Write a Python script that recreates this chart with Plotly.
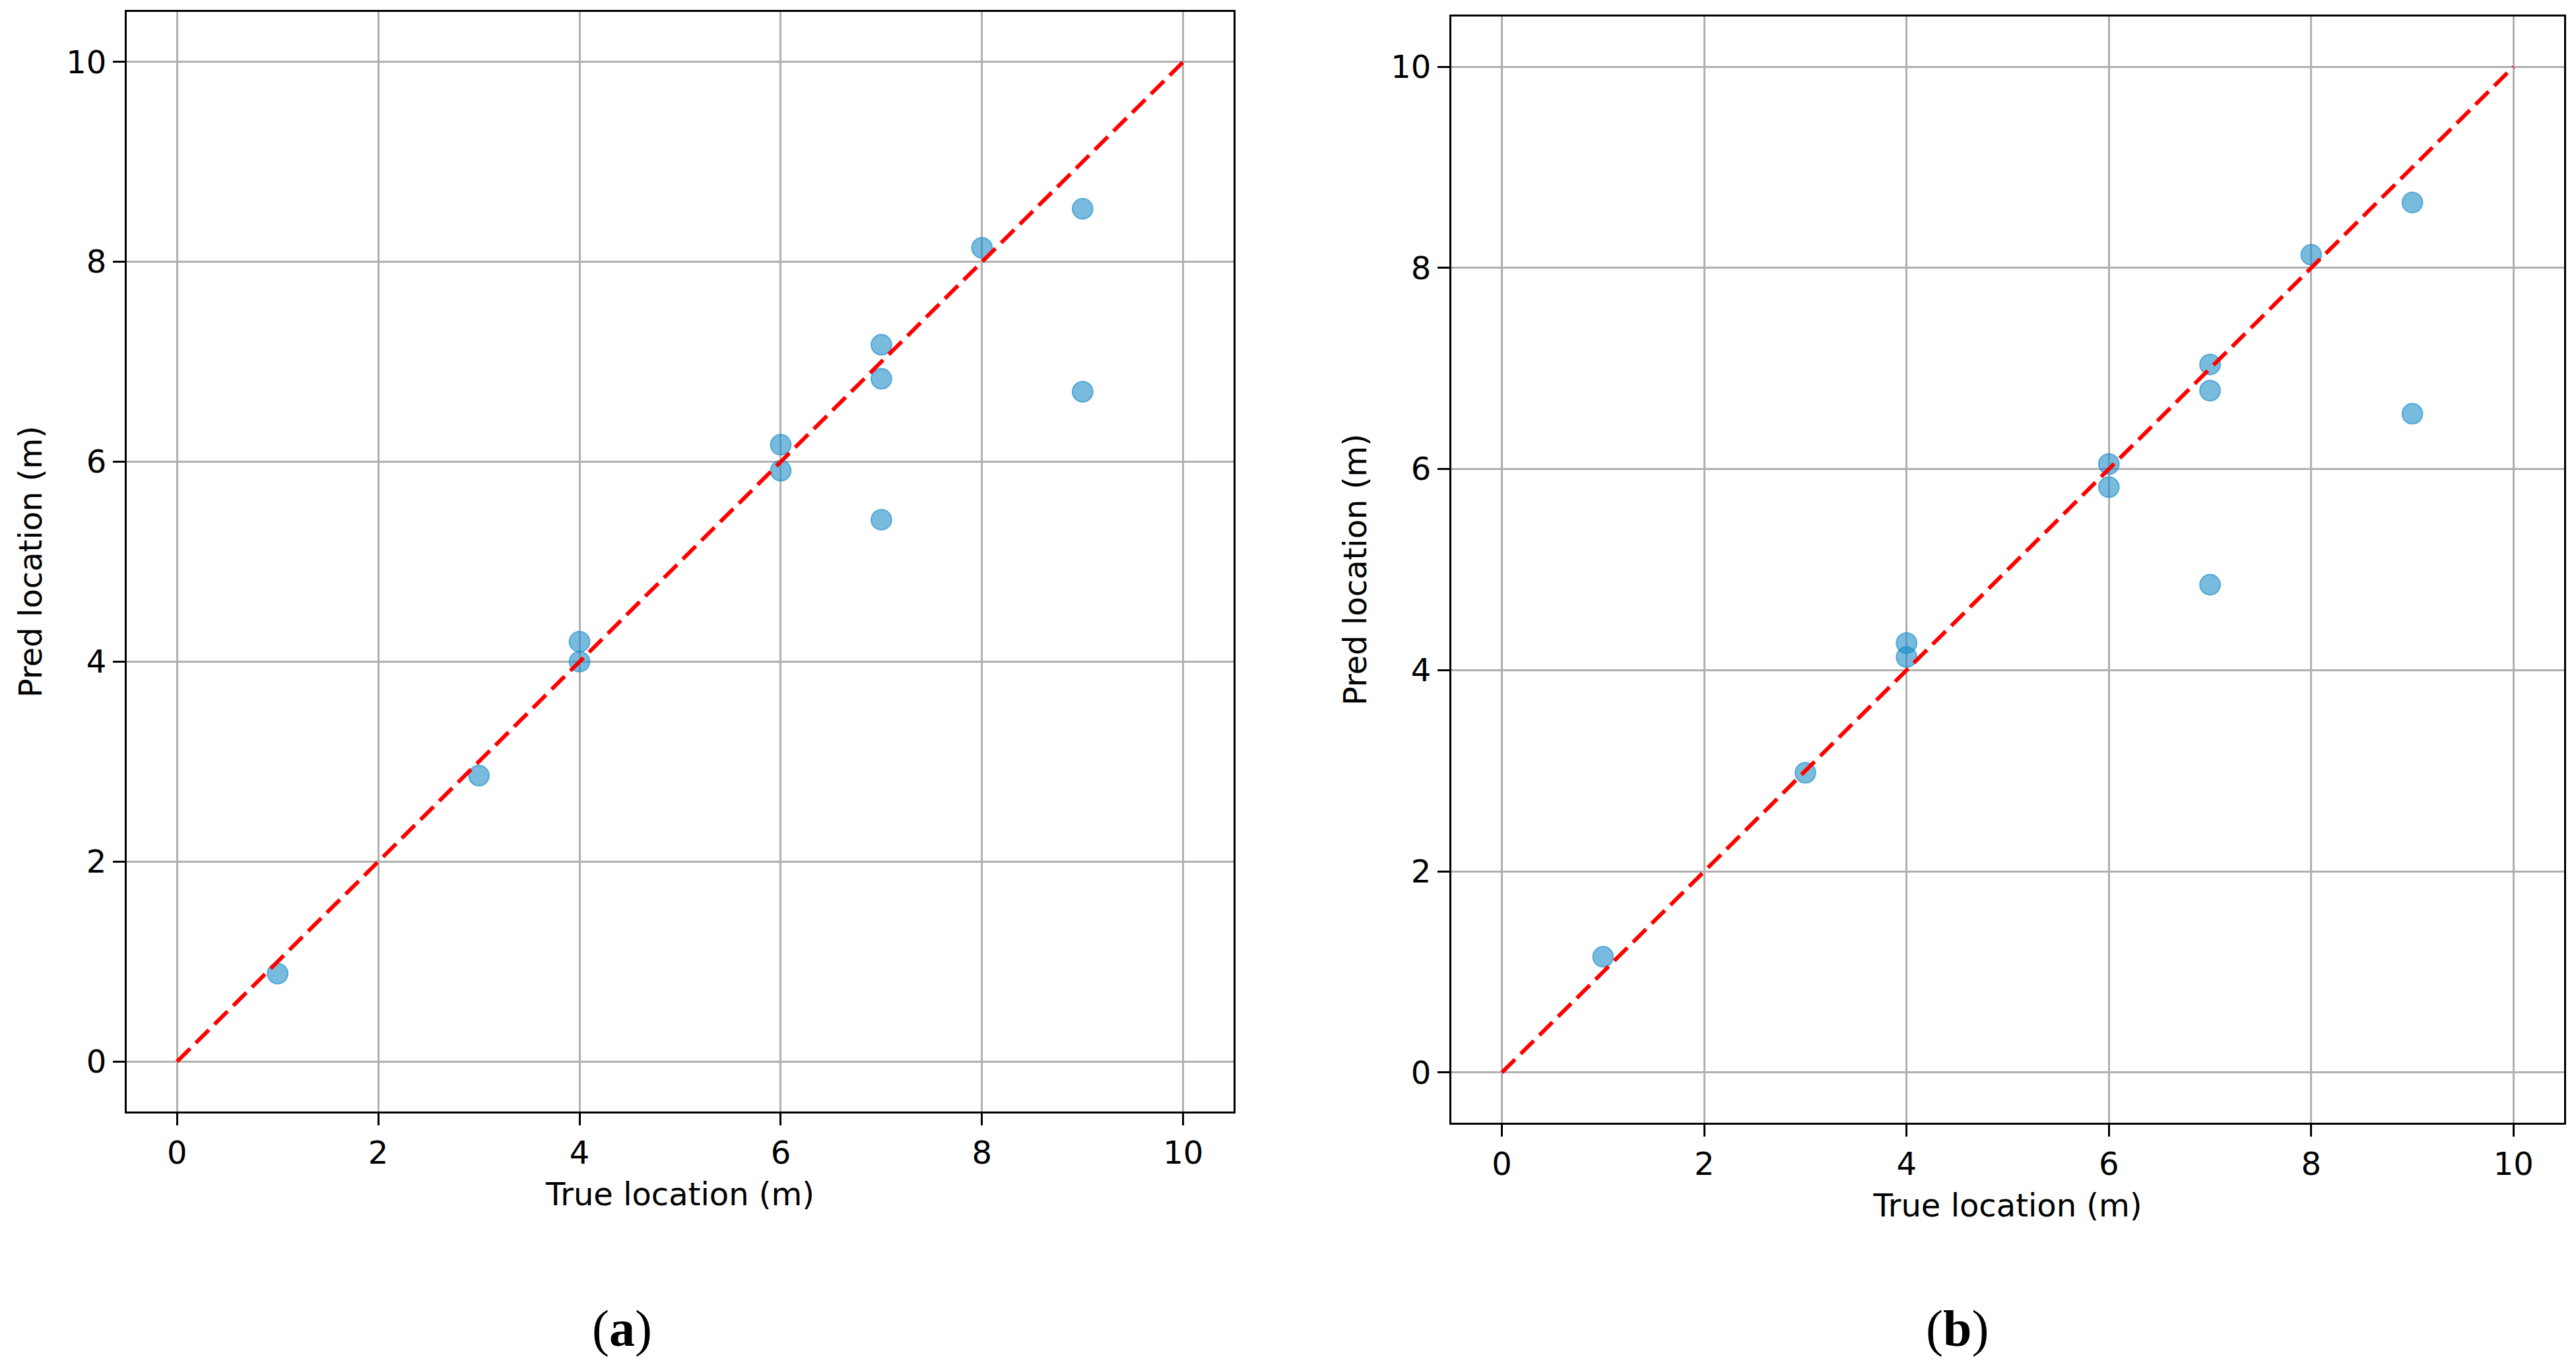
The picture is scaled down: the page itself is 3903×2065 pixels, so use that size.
import plotly.graph_objects as go

# ---- data ----
true_a = [1, 3, 4, 4, 6, 6, 7, 7, 7, 8, 9, 9]
pred_a = [0.88, 2.86, 4.20, 4.00, 6.17, 5.91, 7.17, 6.83, 5.42, 8.14, 8.53, 6.70]

true_b = [1, 3, 4, 4, 6, 6, 7, 7, 7, 8, 9, 9]
pred_b = [1.15, 2.98, 4.27, 4.13, 6.05, 5.82, 7.04, 6.78, 4.85, 8.13, 8.65, 6.55]

ideal_x = [0, 10]
ideal_y = [0, 10]

tick_vals = [0, 2, 4, 6, 8, 10]
tick_text = ["0", "2", "4", "6", "8", "10"]
panel_labels = ["a", "b"]
x_title = "True location (m)"
y_title = "Pred location (m)"

W, H = 3903, 2065
FONT = "DejaVu Sans"

fig = go.Figure()

marker = dict(size=31, color="rgba(22,138,198,0.58)",
              line=dict(color="rgba(22,138,198,0.58)", width=2))

for i, (tx, py) in enumerate([(true_a, pred_a), (true_b, pred_b)]):
    xa = "x" if i == 0 else "x2"
    ya = "y" if i == 0 else "y2"
    fig.add_trace(go.Scatter(x=tx, y=py, mode="markers", marker=marker,
                             xaxis=xa, yaxis=ya, showlegend=False))
    fig.add_trace(go.Scatter(x=ideal_x, y=ideal_y, mode="lines",
                             line=dict(color="red", width=6, dash="28px,12px"),
                             xaxis=xa, yaxis=ya, showlegend=False))

axis_common = dict(
    range=[-0.5, 10.5], tickvals=tick_vals, ticktext=tick_text,
    showgrid=True, gridcolor="#b0b0b0", gridwidth=2.5,
    zeroline=False, showline=True, linecolor="black", linewidth=3.3,
    mirror=True, ticks="outside", ticklen=18, tickwidth=3, tickcolor="black",
    tickfont=dict(family=FONT, size=48, color="black"),
    automargin=False,
)

# pixel boxes of the two panels
left_box = dict(x0=192, x1=1869, y0=18, y1=1684)
right_box = dict(x0=2199, x1=3885, y0=25, y1=1701)

def xdom(b):
    return [b["x0"] / W, b["x1"] / W]

def ydom(b):
    return [1 - b["y1"] / H, 1 - b["y0"] / H]

fig.update_layout(
    width=W, height=H,
    margin=dict(l=0, r=0, t=0, b=0),
    paper_bgcolor="white", plot_bgcolor="white",
    font=dict(family=FONT, color="black"),
    xaxis=dict(domain=xdom(left_box), anchor="y",
               title=dict(text=x_title, font=dict(family=FONT, size=48), standoff=20),
               **axis_common),
    yaxis=dict(domain=ydom(left_box), anchor="x",
               title=dict(text=y_title, font=dict(family=FONT, size=48), standoff=22),
               **axis_common),
    xaxis2=dict(domain=xdom(right_box), anchor="y2",
                title=dict(text=x_title, font=dict(family=FONT, size=48), standoff=20),
                **axis_common),
    yaxis2=dict(domain=ydom(right_box), anchor="x2",
                title=dict(text=y_title, font=dict(family=FONT, size=48), standoff=22),
                **axis_common),
)

label_x = [942 / W, 2965 / W]
for lx, lab in zip(label_x, panel_labels):
    fig.add_annotation(x=lx, y=1 - 2012 / H, xref="paper", yref="paper",
                       text="(<b>" + lab + "</b>)", showarrow=False,
                       xanchor="center", yanchor="middle",
                       font=dict(family="Liberation Serif", size=78, color="black"))

fig.write_html("out.html", config={"displayModeBar": False},
               post_script="document.body.style.margin='0';")
